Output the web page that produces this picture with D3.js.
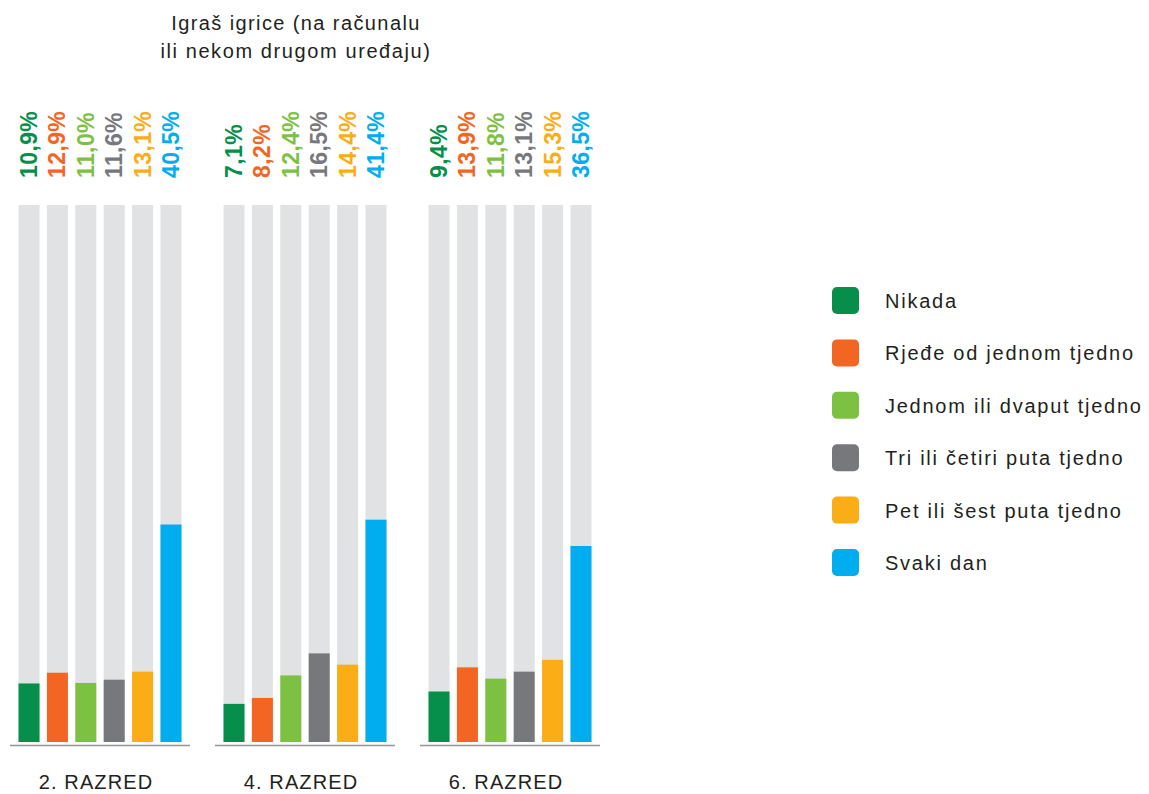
<!DOCTYPE html>
<html><head><meta charset="utf-8">
<script src="https://cdn.jsdelivr.net/npm/d3@7"></script>
<style>body{margin:0;background:#fff}svg{display:block}</style>
</head><body>
<svg id="c" width="1149" height="794"></svg>
<script>
const grades = ["2. RAZRED", "4. RAZRED", "6. RAZRED"];
const categories = ["Nikada", "Rjeđe od jednom tjedno", "Jednom ili dvaput tjedno", "Tri ili četiri puta tjedno", "Pet ili šest puta tjedno", "Svaki dan"];
const colors = ["#058f4b", "#f26522", "#7dc142", "#77787b", "#fbad18", "#00aeef"];
const values2 = [10.9, 12.9, 11.0, 11.6, 13.1, 40.5];
const values4 = [7.1, 8.2, 12.4, 16.5, 14.4, 41.4];
const values6 = [9.4, 13.9, 11.8, 13.1, 15.3, 36.5];
const titleLines = ["Igraš igrice (na računalu", "ili nekom drugom uređaju)"];
const series = [values2, values4, values6];

const svg = d3.select("#c");
const font = "'Liberation Sans', Arial, sans-serif";

const gx = d3.scaleBand().domain(grades).range([10, 625]).paddingInner(0).paddingOuter(0);
const bx = d3.scaleBand().domain(categories).range([0, 180]).paddingInner(0.26).paddingOuter(0.3);
const y = d3.scaleLinear().domain([0, 100]).range([742, 205]);

svg.append("g").selectAll("text").data(titleLines).join("text")
  .attr("x", 296).attr("y", (d, i) => 30 + i * 28)
  .attr("text-anchor", "middle").attr("font-family", font).attr("font-size", 20)
  .attr("letter-spacing", (d, i) => i ? 1.6 : 1.4).attr("fill", "#231f20").text(d => d);

grades.forEach((g, gi) => {
  const grp = svg.append("g").attr("transform", `translate(${gx(g)},0)`);
  const data = categories.map((c, i) => ({ c, v: series[gi][i], col: colors[i] }));
  grp.selectAll("rect.bg").data(data).join("rect").attr("class", "bg")
    .attr("x", d => bx(d.c)).attr("width", bx.bandwidth())
    .attr("y", y(100)).attr("height", y(0) - y(100)).attr("fill", "#e1e2e3");
  grp.selectAll("rect.v").data(data).join("rect").attr("class", "v")
    .attr("x", d => bx(d.c)).attr("width", bx.bandwidth())
    .attr("y", d => y(d.v)).attr("height", d => y(0) - y(d.v)).attr("fill", d => d.col);
  grp.selectAll("text.lab").data(data).join("text").attr("class", "lab")
    .attr("transform", d => `translate(${bx(d.c) + bx.bandwidth() / 2 + 8},178) rotate(-90)`)
    .attr("font-family", font).attr("font-weight", "bold").attr("font-size", 23)
    .attr("letter-spacing", 0.4)
    .attr("fill", d => d.col).text(d => d.v.toFixed(1).replace(".", ",") + "%");
  grp.append("line").attr("x1", 0).attr("x2", 180).attr("y1", 745.5).attr("y2", 745.5)
    .attr("stroke", "#939598").attr("stroke-width", 1.5);
  grp.append("text").attr("x", 86).attr("y", 789).attr("text-anchor", "middle")
    .attr("font-family", font).attr("font-size", 20).attr("letter-spacing", 1.1)
    .attr("fill", "#231f20").text(g);
});

const leg = svg.append("g").attr("transform", "translate(832,0)");
const ly = d3.scalePoint().domain(categories).range([301, 563]);
leg.selectAll("rect").data(categories).join("rect")
  .attr("x", 0).attr("y", d => ly(d) - 14).attr("width", 27).attr("height", 27).attr("rx", 5)
  .attr("fill", (d, i) => colors[i]);
leg.selectAll("text").data(categories).join("text")
  .attr("x", 53).attr("y", d => ly(d) + 7).attr("font-family", font).attr("font-size", 20)
  .attr("letter-spacing", 1.75).attr("fill", "#231f20").text(d => d);
</script>
</body></html>
